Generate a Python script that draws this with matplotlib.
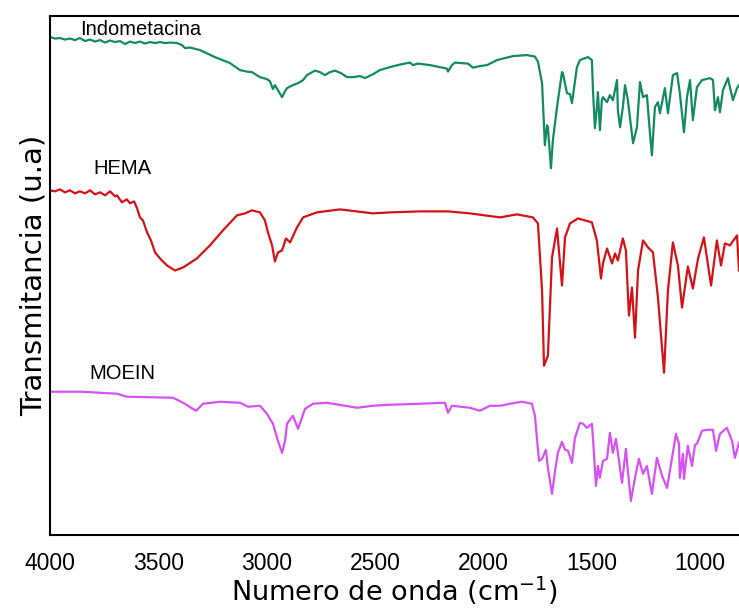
import matplotlib
matplotlib.use("Agg")
import matplotlib.pyplot as plt

# ---------------- data (wavenumber cm-1, transmittance a.u.) ----------------
indo_wn = [4000, 3977, 3954, 3931, 3908, 3885, 3862, 3838, 3815, 3792, 3769, 3746, 3723, 3700,
           3677, 3654, 3631, 3608, 3585, 3562, 3538, 3515, 3492, 3469, 3446, 3414, 3391, 3377,
           3354, 3308, 3239, 3169, 3123, 3091, 3068, 3031, 2999, 2985, 2971, 2962, 2948, 2929,
           2915, 2906, 2879, 2855, 2832, 2814, 2777, 2754, 2731, 2708, 2685, 2657, 2629, 2602,
           2569, 2546, 2509, 2477, 2431, 2385, 2339, 2325, 2302, 2246, 2200, 2168, 2163, 2145,
           2131, 2071, 2048, 2016, 1983, 1937, 1900, 1863, 1831, 1799, 1762, 1748, 1729, 1716,
           1706, 1702, 1688, 1679, 1660, 1637, 1633, 1614, 1600, 1591, 1586, 1568, 1554, 1517,
           1499, 1494, 1485, 1476, 1471, 1462, 1453, 1448, 1429, 1416, 1402, 1383, 1379, 1369,
           1356, 1346, 1333, 1309, 1291, 1277, 1263, 1245, 1231, 1222, 1208, 1194, 1185, 1162,
           1148, 1125, 1106, 1093, 1074, 1060, 1046, 1033, 1014, 991, 954, 940, 931, 917, 908,
           894, 871, 862, 848, 829, 820]
indo_t = [99.4, 99.1, 99.2, 98.9, 99.1, 98.8, 99.2, 98.6, 98.9, 98.5, 98.8, 98.3, 98.7, 98.4,
          98.6, 98.0, 98.5, 98.2, 98.5, 98.1, 98.4, 98.2, 98.4, 98.2, 98.3, 98.2, 97.8, 97.2,
          97.3, 96.8, 95.4, 94.2, 92.8, 92.5, 92.4, 91.4, 91.0, 90.6, 89.0, 89.8, 88.8, 87.4,
          88.6, 89.2, 89.8, 90.2, 90.8, 91.8, 92.7, 92.4, 91.8, 92.4, 92.7, 92.2, 91.4, 91.4,
          91.6, 91.2, 92.0, 92.8, 93.4, 93.9, 94.3, 93.8, 94.1, 93.8, 93.4, 93.1, 92.5, 93.8,
          94.3, 94.1, 93.3, 93.6, 93.8, 94.8, 95.2, 95.6, 95.7, 95.8, 95.5, 94.5, 90.2, 77.8,
          81.8, 81.4, 73.2, 78.8, 85.4, 92.4, 92.2, 88.2, 88.0, 86.2, 87.8, 93.4, 94.8, 95.4,
          94.8, 88.8, 81.2, 85.4, 88.4, 80.8, 86.8, 87.4, 86.4, 87.8, 86.8, 90.8, 84.8, 81.4,
          85.4, 89.8, 86.8, 78.2, 81.4, 90.4, 87.4, 87.8, 80.2, 75.8, 85.4, 86.4, 84.2, 89.2,
          84.2, 91.8, 92.2, 88.2, 80.4, 87.4, 90.8, 82.8, 89.4, 90.8, 91.2, 90.8, 84.8, 87.4, 84.4,
          88.8, 91.2, 89.4, 86.8, 89.2, 89.8]

hema_wn = [4000, 3977, 3954, 3931, 3908, 3885, 3862, 3838, 3815, 3792, 3769, 3746, 3723, 3700,
           3691, 3668, 3645, 3631, 3612, 3598, 3585, 3571, 3552, 3534, 3515, 3488, 3460, 3423,
           3386, 3322, 3262, 3202, 3137, 3100, 3068, 3031, 3008, 2994, 2975, 2962, 2948, 2929,
           2911, 2892, 2860, 2832, 2768, 2662, 2509, 2431, 2292, 2163, 2062, 1923, 1845, 1771,
           1748, 1729, 1720, 1702, 1683, 1660, 1637, 1623, 1600, 1563, 1499, 1476, 1457, 1448,
           1429, 1406, 1392, 1379, 1356, 1342, 1328, 1314, 1300, 1286, 1263, 1240, 1217, 1194,
           1166, 1148, 1125, 1102, 1083, 1056, 1033, 1009, 982, 949, 922, 903, 885, 862, 829, 820]
hema_t = [68.8, 68.6, 69.0, 68.4, 68.8, 68.2, 68.6, 68.2, 68.8, 68.0, 68.4, 67.8, 68.6, 67.6,
          67.8, 66.4, 67.0, 66.2, 66.6, 65.2, 63.4, 62.8, 60.4, 58.8, 56.4, 55.0, 53.8, 52.8,
          53.4, 55.2, 57.8, 60.8, 63.8, 64.2, 64.8, 64.4, 62.8, 60.4, 57.8, 54.6, 56.4, 56.8,
          59.2, 58.4, 61.4, 63.4, 64.4, 65.0, 64.2, 64.4, 64.6, 64.6, 64.2, 63.4, 64.0, 63.4,
          62.2, 48.8, 33.8, 35.8, 55.4, 61.2, 49.8, 59.4, 62.2, 63.2, 62.4, 58.8, 51.2, 54.2,
          57.2, 54.2, 56.2, 54.8, 59.2, 56.8, 43.8, 49.4, 39.4, 52.8, 58.8, 57.4, 56.4, 47.4,
          32.4, 48.8, 58.4, 53.8, 45.4, 53.6, 49.2, 55.2, 59.4, 49.8, 58.8, 53.8, 58.2, 57.8,
          59.8, 52.8]

moein_wn = [4000, 3852, 3691, 3645, 3432, 3386, 3326, 3294, 3215, 3123, 3086, 3031, 2999, 2971,
            2948, 2929, 2915, 2906, 2879, 2855, 2823, 2786, 2722, 2583, 2509, 2431, 2292, 2177,
            2163, 2145, 2062, 2016, 1969, 1923, 1877, 1822, 1776, 1762, 1743, 1729, 1711, 1702,
            1683, 1669, 1656, 1637, 1623, 1609, 1591, 1577, 1554, 1540, 1522, 1499, 1494, 1480,
            1471, 1462, 1448, 1429, 1416, 1402, 1388, 1360, 1342, 1333, 1319, 1300, 1282, 1263,
            1245, 1222, 1199, 1175, 1152, 1129, 1111, 1097, 1093, 1079, 1074, 1056, 1037, 1023,
            1014, 991, 968, 940, 926, 908, 876, 852, 839, 820]
moein_t = [28.6, 28.6, 28.2, 27.6, 27.4, 26.4, 24.8, 26.2, 26.6, 26.4, 25.6, 25.8, 24.2, 22.2,
           18.8, 16.4, 18.8, 22.2, 23.8, 21.2, 25.2, 26.2, 26.4, 25.4, 25.8, 26.0, 26.2, 26.4,
           24.4, 25.8, 25.4, 24.8, 25.8, 25.8, 26.2, 26.6, 26.2, 23.8, 14.8, 15.2, 17.0, 13.4,
           8.2, 12.8, 16.4, 18.6, 17.0, 16.8, 14.4, 19.4, 22.4, 22.2, 21.4, 22.2, 19.4, 9.8,
           13.8, 11.4, 14.8, 15.2, 20.4, 16.4, 19.2, 10.4, 17.2, 12.8, 6.8, 11.4, 15.2, 12.2,
           13.8, 8.2, 15.4, 11.8, 9.4, 15.4, 20.2, 18.2, 11.4, 16.2, 11.2, 17.8, 13.8, 18.0,
           18.2, 20.8, 21.0, 21.0, 16.8, 20.2, 21.4, 18.8, 15.4, 18.4]

series_names = ["Indometacina", "HEMA", "MOEIN"]
label_pos = [(3862, 101.0), (3802, 73.2), (3820, 32.2)]
x_ticks = [4000, 3500, 3000, 2500, 2000, 1500, 1000]

# ---------------- figure ----------------
fig = plt.figure(figsize=(7.39, 6.08), dpi=100)
ax = fig.add_axes([50 / 739, (608 - 535) / 608, 1 - 50 / 739, (535 - 16) / 608])

colors = ["#138a64", "#d41218", "#d652f2"]
for wn, t, c in zip([indo_wn, hema_wn, moein_wn], [indo_t, hema_t, moein_t], colors):
    ax.plot(wn, t, color=c, lw=1.6, solid_joinstyle="round")

for name, (lx, ly) in zip(series_names, label_pos):
    ax.text(lx, ly, name, ha="left", va="center", fontsize=14.5, family="Liberation Sans",
            color="black")

ax.set_xlim(4000, 820)
ax.set_ylim(0, 103.6)
ax.set_xticks(x_ticks)
ax.set_xticklabels([str(v) for v in x_ticks], family="Liberation Sans", fontsize=16.5)
ax.set_yticks([])
ax.tick_params(axis="x", length=0, pad=12)

for side in ["left", "top", "bottom"]:
    ax.spines[side].set_linewidth(1.5)
    ax.spines[side].set_color("black")
ax.spines["right"].set_visible(False)

ax.set_xlabel("Numero de onda (cm$^{-1}$)", fontsize=19.5, family="DejaVu Sans", labelpad=0)
ax.set_ylabel("Transmitancia (u.a)", fontsize=21, family="DejaVu Sans", labelpad=2)

fig.savefig("out.png", dpi=100)
